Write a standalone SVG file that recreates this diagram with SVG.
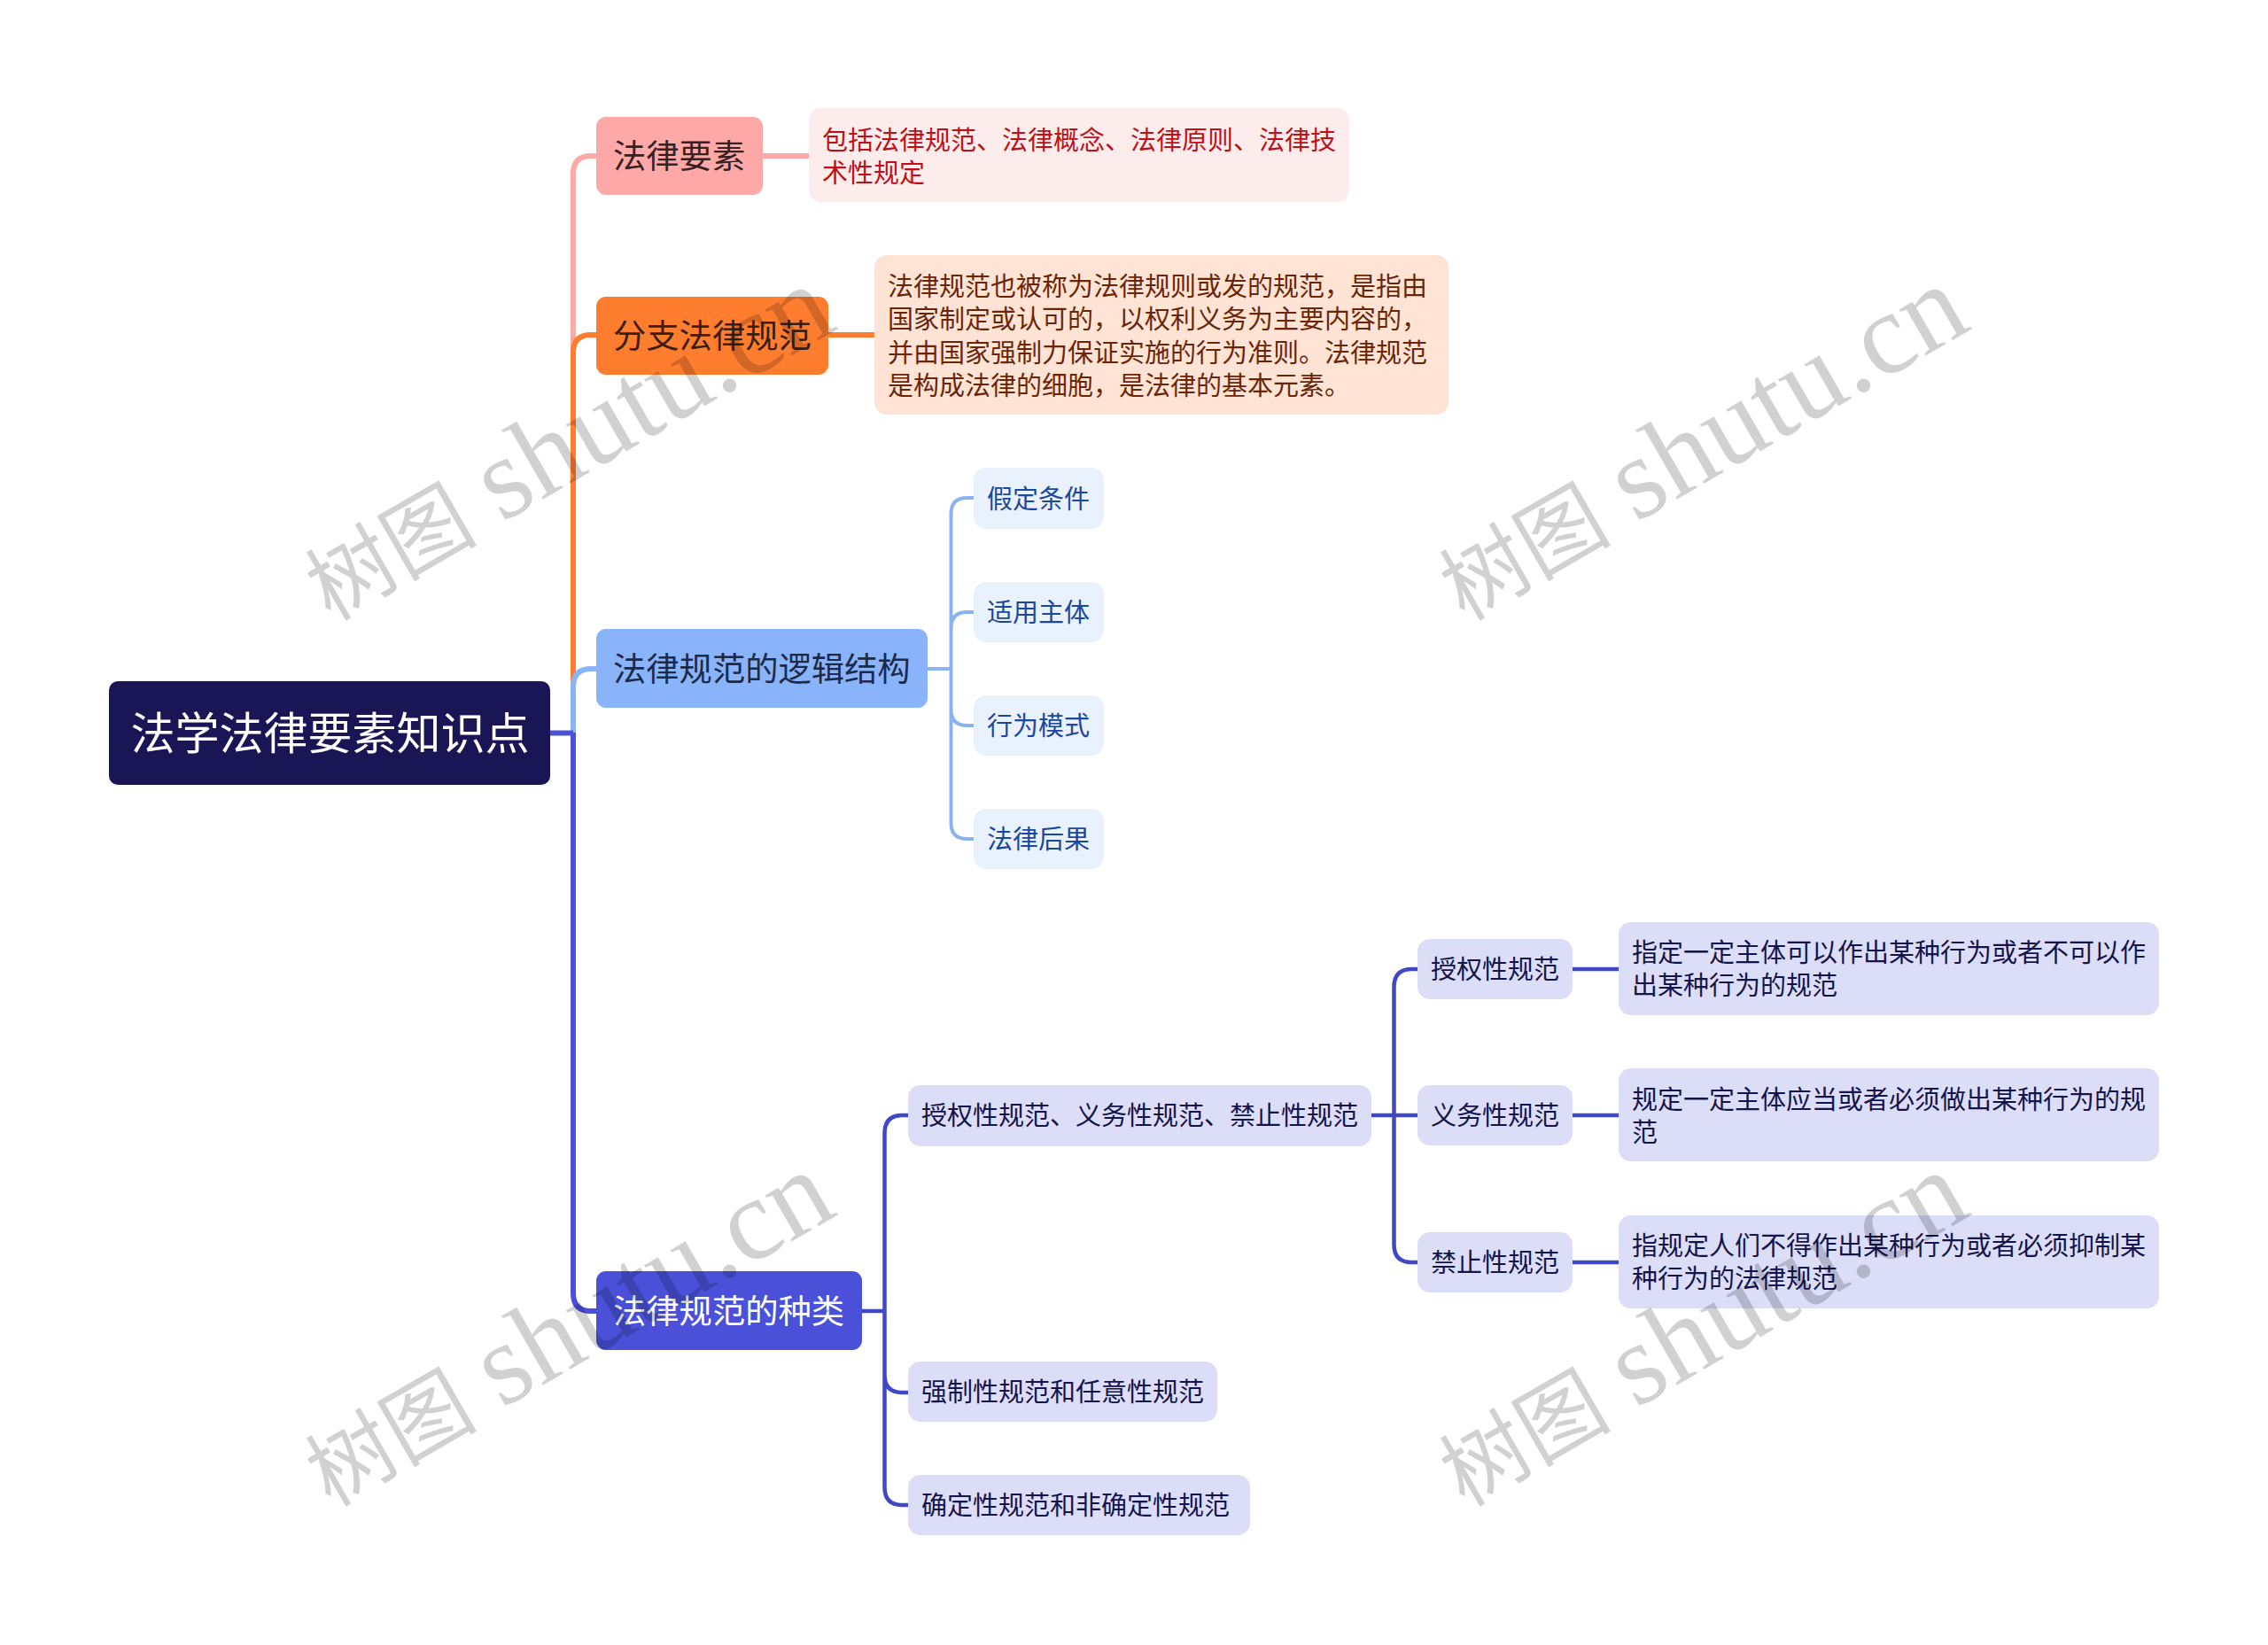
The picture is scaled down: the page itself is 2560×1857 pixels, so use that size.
<svg xmlns="http://www.w3.org/2000/svg" width="2560" height="1857" viewBox="0 0 2560 1857">
<style>
text{font-family:"Noto Sans CJK SC","Noto Sans",sans-serif}
.l{fill:none;stroke-linecap:butt;stroke-linejoin:round}
.pk{stroke:#FFA8A8;stroke-width:6}
.or{stroke:#FF7D2F;stroke-width:6}
.bl{stroke:#8AB4F0;stroke-width:4}
.bl1{stroke:#8AB4FA;stroke-width:6}
.in1{stroke:#4A51D8;stroke-width:6}
.in{stroke:#4048C4;stroke-width:4.500}
.t1{font-size:37.300px}
.t2{font-size:29px}
.wm{font-family:"Liberation Serif","Noto Sans CJK SC",serif;font-size:97px;fill:#000;fill-opacity:.18}
.wm tspan{font-size:131px}
.ib rect{fill:#DCDDF7}.ib text{fill:#14144D}
.bb rect{fill:#E9F1FC}.bb text{fill:#1A47A0}
</style>
<rect width="2560" height="1857" fill="#fff"/>
<g id="connectors">
<path class="l pk" d="M647 827V196Q647 176 667 176H673"/>
<path class="l pk" d="M861 176H913"/>
<path class="l or" d="M647 827V398Q647 378 667 378H673"/>
<path class="l or" d="M935 378H988"/>
<path class="l bl1" d="M647 827V775Q647 755 667 755H673"/>
<path class="l bl" d="M1047 755H1073.500M1099 562H1091.500Q1073.500 562 1073.500 580V929Q1073.500 947 1091.500 947H1099M1073.500 709Q1073.500 691 1091.500 691H1099M1073.500 801Q1073.500 819 1091.500 819H1099"/>
<path class="l in1" d="M621 827.500H647M647 827V1460Q647 1480 667 1480H673"/>
<path class="l in" d="M972 1480H998.500M1025 1259H1018.500Q998.500 1259 998.500 1279V1679Q998.500 1699 1018.500 1699H1025M998.500 1552Q998.500 1572 1018.500 1572H1025"/>
<path class="l in" d="M1547 1259H1600M1600 1094H1593.500Q1573.500 1094 1573.500 1114V1405Q1573.500 1425 1593.500 1425H1600"/>
<path class="l in" d="M1774 1094H1828M1774 1259H1828M1774 1425H1828"/>
</g>
<g id="root"><rect x="123" y="769" width="498" height="117" rx="10" fill="#1A1656"/><text x="147.500" y="846" font-size="50" fill="#fff">法学法律要素知识点</text></g>
<g id="n1"><rect x="673" y="132" width="188" height="88" rx="11" fill="#FFA8A8"/><text class="t1" x="692" y="190" fill="#3A2020">法律要素</text></g>
<g id="n1a"><rect x="913" y="122" width="610" height="106" rx="14" fill="#FDECEC"/><text class="t2" x="928" y="169" fill="#C00F17">包括法律规范、法律概念、法律原则、法律技</text><text class="t2" x="928" y="206" fill="#C00F17">术性规定</text></g>
<g id="n2"><rect x="673" y="335" width="262" height="88" rx="11" fill="#FF7D2F"/><text class="t1" x="692" y="393" fill="#3A2010">分支法律规范</text></g>
<g id="n2a"><rect x="987" y="288" width="648" height="180" rx="14" fill="#FFE3D4"/><g fill="#6B2506"><text class="t2" x="1002" y="334">法律规范也被称为法律规则或发的规范，是指由</text><text class="t2" x="1002" y="371">国家制定或认可的，以权利义务为主要内容的，</text><text class="t2" x="1002" y="409">并由国家强制力保证实施的行为准则。法律规范</text><text class="t2" x="1002" y="446">是构成法律的细胞，是法律的基本元素。</text></g></g>
<g id="n3"><rect x="673" y="710" width="374" height="89" rx="11" fill="#8AB4FA"/><text class="t1" x="692" y="769" fill="#1C2A4A">法律规范的逻辑结构</text></g>
<g id="n3a" class="bb"><rect x="1099" y="528" width="147" height="69" rx="14"/><text class="t2" x="1114" y="574">假定条件</text></g>
<g id="n3b" class="bb"><rect x="1099" y="657" width="147" height="68" rx="14"/><text class="t2" x="1114" y="702">适用主体</text></g>
<g id="n3c" class="bb"><rect x="1099" y="785" width="147" height="68" rx="14"/><text class="t2" x="1114" y="830">行为模式</text></g>
<g id="n3d" class="bb"><rect x="1099" y="913" width="147" height="68" rx="14"/><text class="t2" x="1114" y="958">法律后果</text></g>
<g id="n4"><rect x="673" y="1435" width="300" height="89" rx="11" fill="#4A51D8"/><text class="t1" x="692" y="1494" fill="#fff">法律规范的种类</text></g>
<g id="n4a" class="ib"><rect x="1025" y="1225" width="523" height="69" rx="14"/><text class="t2" x="1040" y="1270">授权性规范、义务性规范、禁止性规范</text></g>
<g id="n4b" class="ib"><rect x="1025" y="1537" width="349" height="68" rx="14"/><text class="t2" x="1040" y="1582">强制性规范和任意性规范</text></g>
<g id="n4c" class="ib"><rect x="1025" y="1665" width="386" height="68" rx="14"/><text class="t2" x="1040" y="1710">确定性规范和非确定性规范</text></g>
<g id="n5a" class="ib"><rect x="1600" y="1060" width="175" height="68" rx="14"/><text class="t2" x="1615" y="1105">授权性规范</text></g>
<g id="n5b" class="ib"><rect x="1600" y="1225" width="175" height="68" rx="14"/><text class="t2" x="1615" y="1270">义务性规范</text></g>
<g id="n5c" class="ib"><rect x="1600" y="1391" width="175" height="68" rx="14"/><text class="t2" x="1615" y="1436">禁止性规范</text></g>
<g id="n6a" class="ib"><rect x="1827" y="1041" width="610" height="105" rx="14"/><text class="t2" x="1842" y="1086">指定一定主体可以作出某种行为或者不可以作</text><text class="t2" x="1842" y="1123">出某种行为的规范</text></g>
<g id="n6b" class="ib"><rect x="1827" y="1206" width="610" height="105" rx="14"/><text class="t2" x="1842" y="1252">规定一定主体应当或者必须做出某种行为的规</text><text class="t2" x="1842" y="1289">范</text></g>
<g id="n6c" class="ib"><rect x="1827" y="1372" width="610" height="105" rx="14"/><text class="t2" x="1842" y="1417">指规定人们不得作出某种行为或者必须抑制某</text><text class="t2" x="1842" y="1454">种行为的法律规范</text></g>
<g id="watermarks">
<text class="wm" transform="translate(373 702) rotate(-30)">树图 <tspan dx="5">shutu.cn</tspan></text>
<text class="wm" transform="translate(1653 702) rotate(-30)">树图 <tspan dx="5">shutu.cn</tspan></text>
<text class="wm" transform="translate(373 1702) rotate(-30)">树图 <tspan dx="5">shutu.cn</tspan></text>
<text class="wm" transform="translate(1653 1702) rotate(-30)">树图 <tspan dx="5">shutu.cn</tspan></text>
</g>
</svg>
